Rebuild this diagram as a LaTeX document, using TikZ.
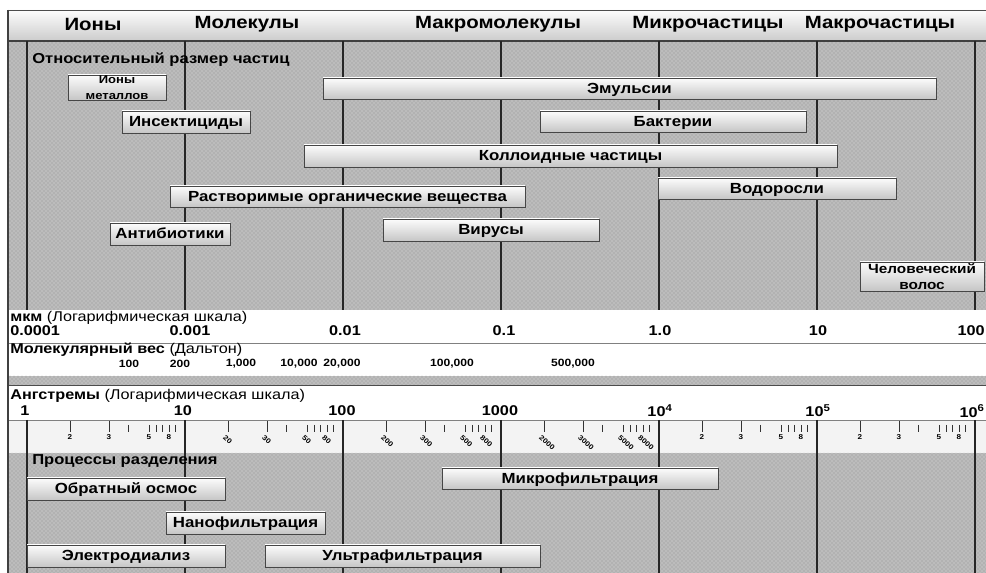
\documentclass[tikz,border=0pt]{standalone}
\usepackage{fontspec}
\setmainfont{Liberation Sans}[FakeStretch=1.15]
\usetikzlibrary{patterns}

\definecolor{dotgray}{RGB}{178,178,178}
\definecolor{dotlight}{RGB}{222,222,222}
\definecolor{bandgray}{RGB}{243,243,243}

% box spanning (x1,y1)-(x2,y2), in pixels
\newcommand{\sizebar}[7][]{%
  \node[bar, #1, minimum width={(#5-#3)*0.75pt}, minimum height={(#6-#4)*0.75pt}]
    (#2) at ({(#3+#5)/2},{(#4+#6)/2}) {#7};}

\begin{document}
\begin{tikzpicture}[x=0.75pt, y=-0.75pt,
    bar/.style={draw=gray!55!black, top color=gray!2, bottom color=gray!45, inner sep=0pt,
      text height=8pt, text depth=1pt, font=\bfseries\fontsize{11}{12}\selectfont},
    twoline/.style={align=center, text height={}, text depth={}},
    dotted area/.style={fill=dotgray, postaction={pattern=crosshatch dots, pattern color=dotlight}},
    decade/.style={line width=1.3pt, black!85},
    headtext/.style={font=\bfseries\fontsize{13.3}{15}\selectfont},
    sectiontitle/.style={anchor=west, inner sep=0pt, font=\bfseries\fontsize{10.8}{12}\selectfont},
    scaletitle/.style={anchor=west, inner sep=0pt, font=\fontsize{10.6}{12}\selectfont},
    scalenum/.style={inner sep=0pt, font=\bfseries\fontsize{10.6}{12}\selectfont},
    weightnum/.style={inner sep=0pt, font=\bfseries\fontsize{7.9}{9}\selectfont},
    scaletick/.style={line width=0.6pt, black!80},
    ticknum/.style={inner sep=0pt, font=\bfseries\fontsize{5.3}{6}\selectfont}]
  \useasboundingbox (0,0) rectangle (986,573);
  \fill[white] (0,0) rectangle (986,573);

  % Upper area and header bar
  \fill[dotted area] (8,41) rectangle (986,310);
  \shade[top color=gray!2, bottom color=gray!40] (8,10) rectangle (986,41);
  \draw[gray!60!black] (986,10) -- (8,10);
  \draw[black!75, line width=1pt] (8,41) -- (986,41);

  % Scale bands
  \fill[white] (8,310) rectangle (986,385);
  \draw[gray] (8,343) -- (986,343);
  \fill[dotted area] (8,376) rectangle (986,385);
  \draw[gray!60!black] (8,385) -- (986,385);
  \fill[bandgray] (8,420) rectangle (986,453);
  \draw[gray] (8,420) -- (986,420);

  % Lower area
  \fill[dotted area] (8,453) rectangle (986,573);
  \draw[black!75, line width=1pt] (8,10) -- (8,573);

  % Decade lines
  \foreach \d in {0,...,6} {
    \draw[decade] ({27+158*\d},41) -- ({27+158*\d},310);
    \draw[decade] ({27+158*\d},420) -- ({27+158*\d},573);
  }

  % Ticks
  \foreach \d in {0,...,5} {
    \foreach \t in {43,82}
      \draw[scaletick] ({27+158*\d+\t},421) -- ({27+158*\d+\t},432);
    \foreach \t in {101,122,129,135,142,148}
      \draw[scaletick] ({27+158*\d+\t},425) -- ({27+158*\d+\t},432);
  }
  \foreach \d in {0,4,5}
    \foreach \t/\l in {43/2,82/3,122/5,142/8}
      \node[ticknum] (tn-\d-\l) at ({27+158*\d+\t},437) {\l};
  \foreach \d/\m in {1/0,2/00,3/000}
    \foreach \t/\l in {43/2,82/3,122/5,142/8}
      \node[ticknum, rotate=-42, anchor=north west] (tr-\d-\l) at ({25+158*\d+\t},434) {\l\m};

  % Header
  \node[headtext] (ions) at (93,24) {Ионы};
  \node[headtext] (molec) at (247,24) {Молекулы};
  \node[headtext] (macromol) at (498,24) {Макромолекулы};
  \node[headtext] (micro) at (708,24) {Микрочастицы};
  \node[headtext] (macro) at (880,24) {Макрочастицы};

  % Relative size of particles
  \node[sectiontitle] (sizes) at (32,60) {Относительный размер частиц};
  \sizebar[twoline]{metions}{68}{75}{166}{100}{\fontsize{8.5}{11}\selectfont Ионы\\\fontsize{8.5}{11}\selectfont металлов}
  \sizebar{emuls}{323}{78}{936}{99}{Эмульсии}
  \sizebar{insect}{122}{111}{250}{133}{Инсектициды}
  \sizebar{bacter}{540}{111}{806}{132}{Бактерии}
  \sizebar{colloid}{304}{145}{837}{167}{Коллоидные частицы}
  \sizebar{organic}{170}{186}{525}{207}{Растворимые органические вещества}
  \sizebar{algae}{658}{178}{896}{199}{Водоросли}
  \sizebar{antibio}{110}{223}{230}{245}{Антибиотики}
  \sizebar{virus}{383}{219}{599}{241}{Вирусы}
  \sizebar[twoline]{hair}{860}{262}{984}{291}{\fontsize{10}{11}\selectfont Человеческий\\\fontsize{10}{11}\selectfont волос}

  % Micrometre scale
  \node[scaletitle] (mkm) at (10,318) {\textbf{мкм} (Логарифмическая шкала)};
  \node[scalenum, anchor=west] (m0) at (10,331) {0.0001};
  \foreach \x/\v [count=\i] in {190/0.001,345/0.01,504/0.1,660/1.0,818/10}
    \node[scalenum] (m\i) at (\x,331) {\v};
  \node[scalenum, anchor=east] (m6) at (985,331) {100};

  % Molecular weight
  \node[scaletitle] (dalton) at (10,350) {\textbf{Молекулярный вес} (Дальтон)};
  \foreach \x/\v [count=\i] in {129/100,180/200,241/{1,000},299/{10,000},342/{20,000},452/{100,000},573/{500,000}}
    \node[weightnum] (w\i) at (\x,364) {\v};

  % Angstrom scale
  \node[scaletitle] (angstr) at (10,396) {\textbf{Ангстремы} (Логарифмическая шкала)};
  \node[scalenum] (a0) at (25,411) {1};
  \foreach \x/\v [count=\i] in {183/10,342/100,500/1000,660/10\textsuperscript{4},818/10\textsuperscript{5}}
    \node[scalenum] (a\i) at (\x,411) {\v};
  \node[scalenum, anchor=east] (a6) at (985,411) {10\textsuperscript{6}};

  % Separation processes
  \node[sectiontitle] (processes) at (32,461) {Процессы разделения};
  \sizebar{revosm}{27}{478}{225}{500}{Обратный осмос}
  \sizebar{nanof}{166}{512}{325}{534}{Нанофильтрация}
  \sizebar{electro}{27}{545}{225}{567}{Электродиализ}
  \sizebar{ultraf}{265}{545}{540}{567}{Ультрафильтрация}
  \sizebar{microf}{442}{468}{718}{489}{Микрофильтрация}
\end{tikzpicture}
\end{document}
